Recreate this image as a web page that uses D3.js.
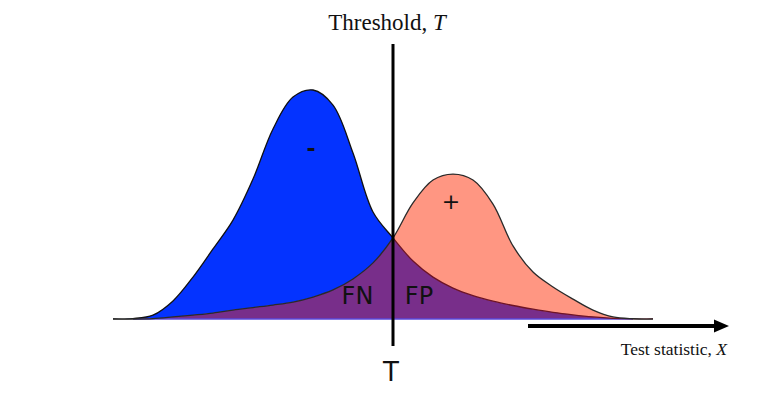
<!DOCTYPE html>
<html>
<head>
<meta charset="utf-8">
<script src="https://cdn.jsdelivr.net/npm/d3@7"></script>
<style>
  html, body { margin: 0; padding: 0; background: #fff; }
  svg { display: block; }
</style>
</head>
<body>
<div class="chart-container"></div>
<script>
//! DATA
// test statistic sample points (arbitrary units)
const xValues = [0, 1, 2, 3, 4, 5, 6, 7, 8, 9, 10, 11, 12, 13, 14, 15, 16, 17, 18, 19, 20, 21, 22, 23, 24, 25, 26, 27]
// density of the negative class (relative to its peak)
const negDensity = [0, .002, .017, .079, .183, .306, .432, .611, .830, .969, 1.0, .934, .725, .467, .354, .253, .183, .135, .102, .078, .059, .043, .029, .018, .009, .003, 0, 0]
// density of the positive class
const posDensity = [0, 0, .002, .009, .017, .026, .039, .050, .061, .074, .096, .127, .175, .245, .354, .507, .607, .633, .607, .502, .319, .205, .140, .087, .039, .009, .001, 0]
const THRESHOLD = 14
const labels = { title: 'Threshold, ', titleVar: 'T', axis: 'Test statistic, ', axisVar: 'X' }

//! CONSTS
const WIDTH = 784
const HEIGHT = 398
const BASE_Y = 319
const PEAK_Y = 90

const BLUE = '#0433ff'
const PINK = '#ff9682'
const PURPLE = '#782e8a'

//! SVG
const svg =
  d3.select('.chart-container')
    .append('svg')
    .attr('width', WIDTH)
    .attr('height', HEIGHT)

//! SCALES
const xScale =
  d3.scaleLinear()
    .domain([0, 27])
    .range([113, 653])

const yScale =
  d3.scaleLinear()
    .domain([0, 1])
    .range([BASE_Y, PEAK_Y])

const neg = xValues.map((x, i) => ({ x, y: negDensity[i] }))
const pos = xValues.map((x, i) => ({ x, y: posDensity[i] }))

const curve = d3.curveCatmullRom.alpha(.5)

const area = d3.area()
  .x(d => xScale(d.x))
  .y0(BASE_Y)
  .y1(d => yScale(d.y))
  .curve(curve)

const line = d3.line()
  .x(d => xScale(d.x))
  .y(d => yScale(d.y))
  .curve(curve)

//! CLIPS (left / right of threshold)
const tx = xScale(THRESHOLD)
const defs = svg.append('defs')
defs.append('clipPath').attr('id', 'left-of-t')
  .append('rect').attr('x', 0).attr('y', 0).attr('width', tx).attr('height', BASE_Y + .5)
defs.append('clipPath').attr('id', 'right-of-t')
  .append('rect').attr('x', tx).attr('y', 0).attr('width', WIDTH - tx).attr('height', BASE_Y + .5)
defs.append('clipPath').attr('id', 'above-base')
  .append('rect').attr('x', 0).attr('y', 0).attr('width', WIDTH).attr('height', BASE_Y + 1)

//! AREAS
const plot = svg.append('g').attr('clip-path', 'url(#above-base)')
plot.append('path').datum(neg).attr('d', area).attr('fill', BLUE)
plot.append('path').datum(pos).attr('d', area).attr('fill', PINK)

// overlap = lower of the two curves
plot.append('path').datum(pos).attr('d', area).attr('fill', PURPLE).attr('clip-path', 'url(#left-of-t)')
plot.append('path').datum(neg).attr('d', area).attr('fill', PURPLE).attr('clip-path', 'url(#right-of-t)')

// baseline
plot.append('line')
  .attr('x1', xScale(1)).attr('x2', xScale(26))
  .attr('y1', BASE_Y).attr('y2', BASE_Y)
  .attr('stroke', '#5a48d8')
  .attr('stroke-width', 1.5)

//! OUTLINES
plot.append('path').datum(neg).attr('d', line)
  .attr('fill', 'none').attr('stroke', '#111').attr('stroke-width', 1.3)
  .attr('clip-path', 'url(#left-of-t)')
plot.append('path').datum(neg).attr('d', line)
  .attr('fill', 'none').attr('stroke', '#6e1426').attr('stroke-width', 1.3)
  .attr('clip-path', 'url(#right-of-t)')
plot.append('path').datum(pos).attr('d', line)
  .attr('fill', 'none').attr('stroke', '#2a2a2a').attr('stroke-width', 1.3)

//! THRESHOLD LINE
svg.append('line')
  .attr('x1', tx).attr('x2', tx)
  .attr('y1', 44).attr('y2', 346)
  .attr('stroke', '#000')
  .attr('stroke-width', 3)

//! AXIS ARROW
svg.append('line')
  .attr('x1', 528).attr('x2', 718)
  .attr('y1', 326).attr('y2', 326)
  .attr('stroke', '#000')
  .attr('stroke-width', 4)
svg.append('path')
  .attr('d', 'M714,319.5 L729,326 L714,332.5 Z')
  .attr('fill', '#000')

//! TEXT
const title = svg.append('text')
  .attr('x', 387).attr('y', 30)
  .attr('text-anchor', 'middle')
  .style('font-family', '"Liberation Serif", "DejaVu Serif", serif')
  .style('font-size', '23px')
  .attr('fill', '#111')
title.append('tspan').text(labels.title)
title.append('tspan').style('font-style', 'italic').text(labels.titleVar)

const axisLabel = svg.append('text')
  .attr('x', 727).attr('y', 355)
  .attr('text-anchor', 'end')
  .style('font-family', '"Liberation Serif", "DejaVu Serif", serif')
  .style('font-size', '17.5px')
  .attr('fill', '#111')
axisLabel.append('tspan').text(labels.axis)
axisLabel.append('tspan').style('font-style', 'italic').text(labels.axisVar)

const sans = '"DejaVu Sans", "Liberation Sans", sans-serif'

svg.append('text')
  .attr('x', tx - 2).attr('y', 381)
  .attr('text-anchor', 'middle')
  .style('font-family', sans).style('font-size', '26px')
  .attr('fill', '#111')
  .text('T')

svg.append('text')
  .attr('x', 357.5).attr('y', 304)
  .attr('text-anchor', 'middle')
  .style('font-family', sans).style('font-size', '24px')
  .attr('fill', '#111')
  .text('FN')

svg.append('text')
  .attr('x', 419).attr('y', 304)
  .attr('text-anchor', 'middle')
  .style('font-family', sans).style('font-size', '24px')
  .attr('fill', '#111')
  .text('FP')

svg.append('text')
  .attr('x', 311).attr('y', 156)
  .attr('text-anchor', 'middle')
  .style('font-family', sans).style('font-size', '22px').style('font-weight', 'bold')
  .attr('fill', '#111')
  .text('-')

svg.append('text')
  .attr('x', 451).attr('y', 209)
  .attr('text-anchor', 'middle')
  .style('font-family', sans).style('font-size', '22px')
  .attr('fill', '#111')
  .text('+')
</script>
</body>
</html>
